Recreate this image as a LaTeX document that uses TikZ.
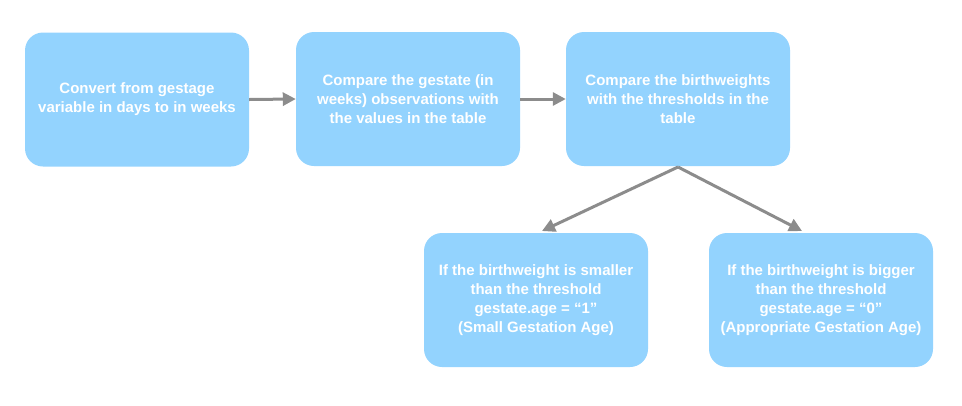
\documentclass[tikz,border=0pt]{standalone}
\usepackage{fontspec}
\setmainfont{Liberation Sans}
\usetikzlibrary{arrows.meta}
\definecolor{boxblue}{HTML}{93D3FE}
\definecolor{arrgray}{HTML}{8C8C8C}
\begin{document}
\begin{tikzpicture}[x=1pt,y=-1pt,
  stepbox/.style={fill=boxblue,draw=none,rounded corners=18pt,minimum width=224pt,minimum height=134pt,
    text=white,font=\bfseries\fontsize{15}{19}\selectfont,align=center,inner sep=0pt},
  conn/.style={draw=arrgray,line width=3pt,-{Triangle[length=13pt,width=13pt]}}]
\useasboundingbox (0,0) rectangle (962,405);
\node[stepbox] (a) at (137,99.5) {Convert from gestage\\variable in days to in weeks};
\node[stepbox] (b) at (408,99) {Compare the gestate (in\\weeks) observations with\\the values in the table};
\node[stepbox] (c) at (678,99) {Compare the birthweights\\with the thresholds in the\\table};
\node[stepbox] (d) at (536,300) {If the birthweight is smaller\\than the threshold\\gestate.age = “1”\\(Small Gestation Age)};
\node[stepbox] (e) at (821,300) {If the birthweight is bigger\\than the threshold\\gestate.age = “0”\\(Appropriate Gestation Age)};
\coordinate (cb) at (678,167);
\coordinate (dt) at (542,231);
\coordinate (et) at (802,231);
\draw[conn] (a.east) -- (b.west);
\draw[conn] (b.east) -- (c.west);
\draw[conn] (cb) -- (dt);
\draw[conn] (cb) -- (et);
\end{tikzpicture}
\end{document}
